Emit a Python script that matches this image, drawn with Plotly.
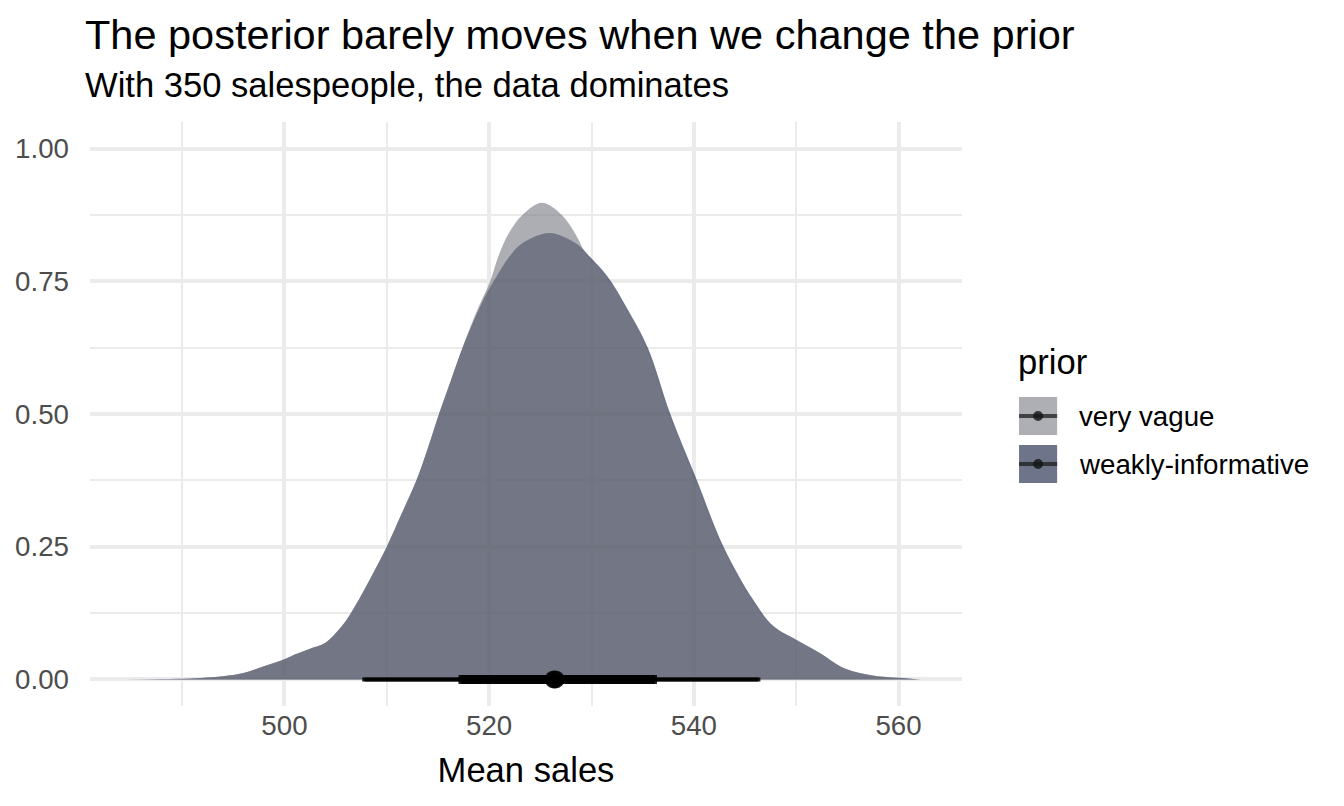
import plotly.graph_objects as go

# posterior densities (scaled like ggdist halfeye)
weak_x = [484.5, 488, 491, 494, 496, 498, 500, 501, 502.5, 504, 505.6, 506.5, 508.2, 510,
          511.4, 512.9, 514.0, 515.1, 516.2, 517.4, 519.4, 520.6, 522.0, 523.2, 525.9, 528.5,
          529.8, 531.6, 533.3, 535.5, 537.7, 540.3, 542.9, 545.8, 547.8, 550, 552.3, 554.8,
          557.4, 560, 562.2]
weak_y = [0.0, 0.001, 0.002, 0.006, 0.012, 0.025, 0.038, 0.047, 0.058, 0.069, 0.100, 0.125,
          0.183, 0.250, 0.310, 0.375, 0.435, 0.500, 0.560, 0.625, 0.714, 0.755, 0.797, 0.821,
          0.841, 0.821, 0.797, 0.758, 0.705, 0.625, 0.500, 0.375, 0.250, 0.150, 0.100, 0.075,
          0.050, 0.020, 0.0075, 0.003, 0.0]

vague_x = [488.7, 491, 494, 496, 498, 500, 501, 502.5, 504, 505.6, 506.5, 508.2, 510, 511.4,
           512.9, 514.0, 515.1, 516.2, 517.4, 518.7, 520.1, 520.9, 521.9, 523.25, 525.16,
           527.1, 528.4, 529.6, 531.4, 533.1, 535.3, 537.5, 540.1, 542.7, 545.6, 547.6, 550,
           552.3, 554.8, 557.4, 560, 562]
vague_y = [0.0, 0.002, 0.006, 0.012, 0.025, 0.038, 0.047, 0.058, 0.069, 0.100, 0.125, 0.183,
           0.250, 0.310, 0.375, 0.435, 0.500, 0.560, 0.625, 0.690, 0.750, 0.797, 0.840, 0.875,
           0.898, 0.875, 0.840, 0.797, 0.758, 0.705, 0.625, 0.500, 0.375, 0.250, 0.150, 0.100,
           0.074, 0.050, 0.020, 0.008, 0.003, 0.0]

priors = ["very vague", "weakly-informative"]
medians = [526.3, 526.5]
lo66 = [517.2, 517.0]
hi66 = [536.2, 536.4]
lo95 = [507.8, 507.6]
hi95 = [546.3, 546.5]

font = "Liberation Sans, Arial, Helvetica, sans-serif"
fill_vague = "rgba(118,120,128,0.6)"
fill_weak = "rgba(13,23,58,0.6)"

fig = go.Figure()
fig.add_trace(go.Scatter(x=weak_x, y=weak_y, fill="tozeroy", fillcolor=fill_weak,
                         mode="lines", line=dict(width=0, shape="spline", smoothing=1),
                         showlegend=False))
fig.add_trace(go.Scatter(x=vague_x, y=vague_y, fill="tozeroy", fillcolor=fill_vague,
                         mode="lines", line=dict(width=0, shape="spline", smoothing=1),
                         showlegend=False))

for i in range(len(priors)):
    fig.add_trace(go.Scatter(x=[lo95[i], hi95[i]], y=[0, 0], mode="lines",
                             line=dict(color="rgba(0,0,0,0.85)", width=4), showlegend=False))
    fig.add_trace(go.Scatter(x=[lo66[i], hi66[i]], y=[0, 0], mode="lines",
                             line=dict(color="rgba(0,0,0,0.85)", width=9), showlegend=False))
    fig.add_trace(go.Scatter(x=[medians[i]], y=[0], mode="markers",
                             marker=dict(color="rgba(0,0,0,0.85)", size=18), showlegend=False))

# legend drawn by hand to get ggplot-style keys
keys = [(0.5291, 0.4640, "rgb(174,175,180)"), (0.4469, 0.3818, "rgb(110,116,137)")]
for (y1, y0, col), name in zip(keys, priors):
    fig.add_shape(type="rect", xref="paper", yref="paper", x0=1.0654, x1=1.1091, y0=y0, y1=y1,
                  fillcolor=col, line=dict(width=0), layer="above")
    ym = (y0 + y1) / 2
    fig.add_shape(type="line", xref="paper", yref="paper", x0=1.0654, x1=1.1091, y0=ym, y1=ym,
                  line=dict(color="rgba(30,30,30,0.75)", width=4), layer="above")
    fig.add_shape(type="circle", xref="paper", yref="paper", x0=1.0815, x1=1.0930,
                  y0=ym - 0.0086, y1=ym + 0.0086, fillcolor="rgba(20,20,20,0.8)",
                  line=dict(width=0), layer="above")
    fig.add_annotation(x=1.1315, y=ym, xref="paper", yref="paper", text=name, showarrow=False,
                       xanchor="left", yanchor="middle", font=dict(size=27.7, color="black"))

fig.add_annotation(x=1.062, y=0.589, xref="paper", yref="paper", text="prior", showarrow=False,
                   xanchor="left", yanchor="middle", font=dict(size=34.6, color="black"))
fig.add_annotation(x=-0.0085, y=1.149, xref="paper", yref="paper",
                   text="The posterior barely moves when we change the prior", showarrow=False,
                   xanchor="left", yanchor="middle", font=dict(size=41.5, color="black"))
fig.add_annotation(x=-0.0085, y=1.0642, xref="paper", yref="paper",
                   text="With 350 salespeople, the data dominates", showarrow=False,
                   xanchor="left", yanchor="middle", font=dict(size=34.6, color="black"))

# the page puts the figure ~8px in from the corner, so margins are shifted by that
fig.update_layout(
    width=1344, height=806,
    margin=dict(l=82, r=390, t=114, b=108),
    plot_bgcolor="white", paper_bgcolor="white",
    font=dict(family=font),
    showlegend=False,
    xaxis=dict(range=[481.0, 566.2], tickvals=[500, 520, 540, 560], showgrid=True,
               gridcolor="#ebebeb", gridwidth=4, zeroline=False, showline=False,
               ticks="", ticklabelstandoff=0, automargin=False,
               tickfont=dict(size=27.7, color="#4d4d4d"),
               minor=dict(tickvals=[490, 510, 530, 550], showgrid=True, gridcolor="#ebebeb",
                          gridwidth=2),
               title=dict(text="Mean sales", font=dict(size=34.6, color="black"), standoff=18)),
    yaxis=dict(range=[-0.05, 1.05], tickvals=[0, 0.25, 0.5, 0.75, 1.0], tickformat=".2f",
               showgrid=True, gridcolor="#ebebeb", gridwidth=4, zeroline=False,
               showline=False, ticks="", ticklabelstandoff=20, automargin=False,
               tickfont=dict(size=27.7, color="#4d4d4d"),
               minor=dict(tickvals=[0.125, 0.375, 0.625, 0.875], showgrid=True,
                          gridcolor="#ebebeb", gridwidth=2)),
)

fig.write_html("out.html")
